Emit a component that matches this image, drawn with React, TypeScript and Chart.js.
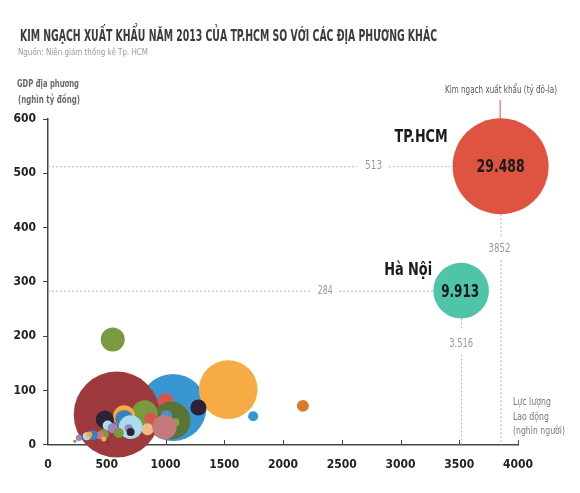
import React, { useEffect, useRef } from "react";
import { Chart, registerables } from "chart.js";

Chart.register(...registerables);

// Data: labour force (thousand people), GDP (thousand bn VND), export value (bn USD)
const provinceNames = [
  "P1", "P2", "P3", "P4", "P5", "P6", "P7", "P8", "P9", "P10",
  "P11", "P12", "P13", "P14", "P15", "P16", "P17", "P18", "P19", "P20",
  "P21", "P22", "P23", "P24", "P25", "P26", "P27", "P28", "P29", "P30",
  "P31", "P32", "Hà Nội", "TP.HCM",
];
const laborForce = [
  1064, 1534, 585, 551, 2169, 1746, 1280, 1000, 1051, 1008,
  1085, 822, 873, 847, 991, 648, 648, 483, 703, 686,
  703, 508, 551, 602, 475, 441, 381, 330, 350, 263,
  229, 475, 3516, 3852,
];
const gdp = [
  69, 102, 56, 194, 72, 53, 69, 81, 45, 53,
  42, 58, 49, 29, 33, 53, 48, 47, 33, 31,
  24, 36, 31, 22, 20, 18, 18, 16, 19, 13,
  7, 11, 284, 513,
];
const exportValue = [
  14.4, 11.0, 23.7, 1.84, 0.46, 0.32, 0.82, 0.8, 4.6, 0.46,
  0.2, 2.2, 0.46, 0.46, 1.9, 1.55, 1.04, 1.04, 1.8, 0.2,
  0.2, 0.32, 0.32, 0.32, 0.32, 0.2, 0.32, 0.2, 0.12, 0.12,
  0.03, 0.08, 9.913, 29.488,
];
const bubbleColors = [
  "#3896d3", "#f7ab44", "#9e3a3e", "#799a3f", "#d97a26", "#3896d3", "#2b2237", "#d6574a", "#5c7336", "#4a8fd0",
  "#82a64a", "#799a3f", "#d6574a", "#f5b880", "#c47a7a", "#f7ab44", "#3a7fc0", "#2b2237", "#a9dcec", "#9b85c0",
  "#2b2237", "#a9dcec", "#9b85c0", "#799a3f", "#799a3f", "#c47a7a", "#3a7fc0", "#a9dcec", "#f7ab44", "#9b85c0",
  "#799a3f", "#f7ab44", "#4ec4a9", "#df5441",
];
const xTicks = [0, 500, 1000, 1500, 2000, 2500, 3000, 3500, 4000];
const yTicks = [0, 100, 200, 300, 400, 500, 600];

const titleText = "KIM NGẠCH XUẤT KHẨU NĂM 2013 CỦA TP.HCM SO VỚI CÁC ĐỊA PHƯƠNG KHÁC";
const sourceText = "Nguồn: Niên giám thống kê Tp. HCM";
const yTitle = ["GDP địa phương", "(nghìn tỷ đồng)"];
const sizeTitle = "Kim ngạch xuất khẩu (tỷ đô-la)";
const xTitle = ["Lực lượng", "Lao động", "(nghìn người)"];
const highlightLabels = { "TP.HCM": { value: "29.488", x: "3852", y: "513" }, "Hà Nội": { value: "9.913", x: "3.516", y: "284" } };

const NARROW = "'Liberation Sans Narrow', 'DejaVu Sans Condensed', 'Roboto', sans-serif";
const RADIUS_K = 8.84;

function fitText(ctx: CanvasRenderingContext2D, text: string, x: number, y: number, w: number, font: string, color: string, align: "left" | "center" | "right" = "left", baseline: CanvasTextBaseline = "alphabetic") {
  ctx.save();
  ctx.font = font;
  ctx.fillStyle = color;
  ctx.textBaseline = baseline;
  ctx.textAlign = "left";
  const m = ctx.measureText(text).width || 1;
  const s = w / m;
  const x0 = align === "left" ? x : align === "right" ? x - w : x - w / 2;
  ctx.translate(x0, y);
  ctx.scale(s, 1);
  ctx.fillText(text, 0, 0);
  ctx.restore();
}

function dotted(ctx: CanvasRenderingContext2D, x1: number, y1: number, x2: number, y2: number) {
  ctx.save();
  ctx.strokeStyle = "#b5b5b5";
  ctx.lineWidth = 1;
  ctx.setLineDash([2, 2]);
  ctx.beginPath();
  ctx.moveTo(x1, y1);
  ctx.lineTo(x2, y2);
  ctx.stroke();
  ctx.restore();
}

const overlayPlugin = {
  id: "overlay",
  beforeDatasetsDraw(chart: any) {
    const ctx: CanvasRenderingContext2D = chart.ctx;
    const xs = chart.scales.x;
    const ys = chart.scales.y;
    const x0 = xs.left;
    const y0 = ys.bottom;
    // TP.HCM guides
    const hi = provinceNames.indexOf("TP.HCM");
    const hx = xs.getPixelForValue(laborForce[hi]);
    const hy = ys.getPixelForValue(gdp[hi]);
    const hr = RADIUS_K * Math.sqrt(exportValue[hi]);
    dotted(ctx, x0, hy + 0.5, hx - 144, hy + 0.5);
    dotted(ctx, hx - 112, hy + 0.5, hx - hr, hy + 0.5);
    dotted(ctx, hx + 0.5, hy + hr, hx + 0.5, hy + hr + 22);
    dotted(ctx, hx + 0.5, hy + hr + 46, hx + 0.5, y0);
    fitText(ctx, highlightLabels["TP.HCM"].y, hx - 127, hy, 17, `12px ${NARROW}`, "#999", "center", "middle");
    fitText(ctx, highlightLabels["TP.HCM"].x, hx - 1, hy + hr + 35, 22, `12px ${NARROW}`, "#999", "center", "middle");
    // Hà Nội guides
    const ni = provinceNames.indexOf("Hà Nội");
    const nx = xs.getPixelForValue(laborForce[ni]);
    const ny = ys.getPixelForValue(gdp[ni]);
    const nr = RADIUS_K * Math.sqrt(exportValue[ni]);
    dotted(ctx, x0, ny + 0.5, nx - 150, ny + 0.5);
    dotted(ctx, nx - 122, ny + 0.5, nx - nr, ny + 0.5);
    dotted(ctx, nx + 0.5, ny + nr, nx + 0.5, ny + nr + 12);
    dotted(ctx, nx + 0.5, ny + nr + 36, nx + 0.5, y0);
    fitText(ctx, highlightLabels["Hà Nội"].y, nx - 136, ny, 15, `12px ${NARROW}`, "#999", "center", "middle");
    fitText(ctx, highlightLabels["Hà Nội"].x, nx, ny + nr + 25, 24, `12px ${NARROW}`, "#999", "center", "middle");
    // red connector to size title
    ctx.save();
    ctx.strokeStyle = "#df5441";
    ctx.lineWidth = 1;
    ctx.beginPath();
    ctx.moveTo(hx - 0.5, 100);
    ctx.lineTo(hx - 0.5, hy - hr + 1);
    ctx.stroke();
    ctx.restore();
  },
  afterDraw(chart: any) {
    const ctx: CanvasRenderingContext2D = chart.ctx;
    const xs = chart.scales.x;
    const ys = chart.scales.y;
    // x ticks (pointing up)
    ctx.save();
    ctx.strokeStyle = "#444";
    ctx.lineWidth = 1;
    xTicks.forEach((t) => {
      if (t === 0) return;
      const px = Math.round(xs.getPixelForValue(t)) + 0.5;
      ctx.beginPath();
      ctx.moveTo(px, ys.bottom - 5);
      ctx.lineTo(px, ys.bottom);
      ctx.stroke();
    });
    ctx.restore();
    // titles
    fitText(ctx, titleText, 20, 41, 417, `bold 15px ${NARROW}`, "#3b3b3b");
    fitText(ctx, sourceText, 18, 55, 130, `9px ${NARROW}`, "#9a9a9a");
    fitText(ctx, yTitle[0], 17, 87, 62, `bold 11px ${NARROW}`, "#6a6a6a");
    fitText(ctx, yTitle[1], 18, 103, 62, `bold 11px ${NARROW}`, "#6a6a6a");
    fitText(ctx, sizeTitle, 445, 93, 112, `10px ${NARROW}`, "#555");
    fitText(ctx, xTitle[0], 513, 405, 38, `10px ${NARROW}`, "#777");
    fitText(ctx, xTitle[1], 513, 420, 36, `10px ${NARROW}`, "#777");
    fitText(ctx, xTitle[2], 513, 434, 52, `10px ${NARROW}`, "#777");
    // highlighted bubble labels
    const hi = provinceNames.indexOf("TP.HCM");
    const hx = xs.getPixelForValue(laborForce[hi]);
    const hy = ys.getPixelForValue(gdp[hi]);
    fitText(ctx, "TP.HCM", hx - 53, hy - 24, 53, `bold 17px ${NARROW}`, "#1a1a1a", "right");
    fitText(ctx, highlightLabels["TP.HCM"].value, hx, hy + 6, 48, `bold 18px ${NARROW}`, "#1a1a1a", "center");
    const ni = provinceNames.indexOf("Hà Nội");
    const nx = xs.getPixelForValue(laborForce[ni]);
    const ny = ys.getPixelForValue(gdp[ni]);
    fitText(ctx, "Hà Nội", nx - 29, ny - 16, 48, `bold 17px ${NARROW}`, "#1a1a1a", "right");
    fitText(ctx, highlightLabels["Hà Nội"].value, nx - 1, ny + 6, 38, `bold 18px ${NARROW}`, "#1a1a1a", "center");
  },
};

export default function App() {
  const ref = useRef<HTMLCanvasElement | null>(null);
  useEffect(() => {
    document.body.style.margin = "0";
    const canvas = ref.current;
    if (!canvas) return;
    const points = laborForce.map((x, i) => ({ x, y: gdp[i], r: RADIUS_K * Math.sqrt(exportValue[i]) }));
    const chart = new Chart(canvas, {
      type: "bubble",
      data: {
        labels: provinceNames,
        datasets: [
          {
            data: points,
            backgroundColor: bubbleColors,
            borderWidth: 0,
            clip: false as any,
          },
        ],
      },
      options: {
        responsive: false,
        animation: false,
        devicePixelRatio: 1,
        layout: { padding: { top: 119, right: 62, left: 0, bottom: 0 } },
        plugins: { legend: { display: false }, tooltip: { enabled: false }, title: { display: false } },
        scales: {
          x: {
            type: "linear",
            min: 0,
            max: 4000,
            z: 1,
            afterFit: (s: any) => { s.height = 43; },
            afterBuildTicks: (s: any) => { s.ticks = xTicks.map((v) => ({ value: v })); },
            grid: { display: true, drawOnChartArea: false, drawTicks: false, color: "#444" },
            border: { display: true, color: "#444", width: 1.5 },
            ticks: { padding: 13, color: "#222", font: { family: NARROW, weight: "bold", size: 12 }, maxRotation: 0, callback: (v: any) => String(v) },
          },
          y: {
            type: "linear",
            min: 0,
            max: 600,
            z: 1,
            afterFit: (s: any) => { s.width = 47; },
            afterBuildTicks: (s: any) => { s.ticks = yTicks.map((v) => ({ value: v })); },
            grid: { display: true, drawOnChartArea: false, drawTicks: true, tickLength: 5, color: "#444" },
            border: { display: true, color: "#444", width: 1.5 },
            ticks: { padding: 7, color: "#222", font: { family: NARROW, weight: "bold", size: 12 }, callback: (v: any) => String(v) },
          },
        },
      } as any,
      plugins: [overlayPlugin],
    });
    return () => chart.destroy();
  }, []);
  return (
    <div style={{ width: 580, height: 493, background: "#fff" }}>
      <canvas ref={ref} width={580} height={493} style={{ width: 580, height: 493, display: "block" }} />
    </div>
  );
}
